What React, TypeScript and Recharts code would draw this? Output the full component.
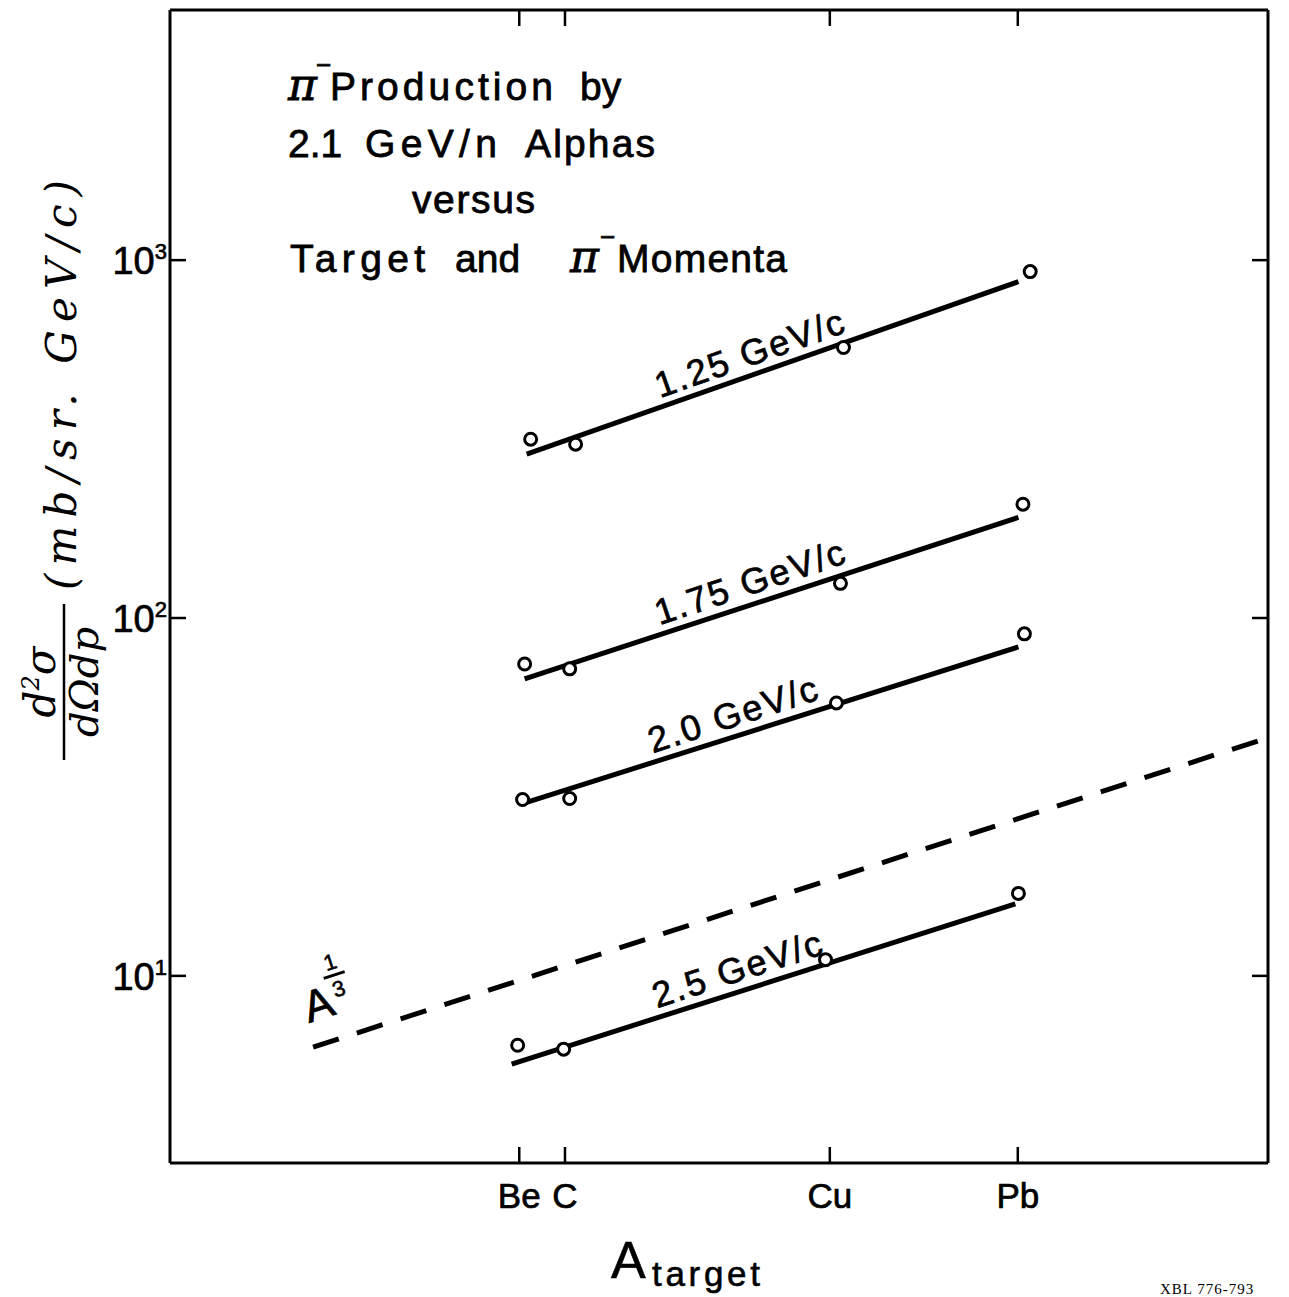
import React from "react";
import {
  ComposedChart,
  Line,
  Scatter,
  XAxis,
  YAxis,
  ReferenceDot,
} from "recharts";

// targets on the x axis (mass number A)
const targetNames = ["Be", "C", "Cu", "Pb"];
const targetMass = [9, 12, 63.5, 207.2];

// y axis decades
const decadeTicks = [10, 100, 1000];
const decadeExponents = ["1", "2", "3"];

const meas125A = [9.67, 12.83, 69.2, 224];
const meas125 = [316, 306, 570, 929];
const meas175A = [9.31, 12.36, 67.9, 214];
const meas175 = [74.4, 72.1, 125, 208];
const meas20A = [9.19, 12.36, 66.2, 216];
const meas20 = [31.1, 31.3, 57.9, 90.3];
const meas25A = [8.91, 11.9, 61.8, 208];
const meas25 = [6.4, 6.24, 11.1, 17.0];

// fitted straight lines (end points)
const fit125A = [9.43, 208];
const fit125 = [287, 871];
const fit175A = [9.31, 208];
const fit175 = [67.6, 191];
const fit20A = [9.19, 208];
const fit20 = [30.3, 83.0];
const fit25A = [8.58, 204];
const fit25 = [5.67, 15.9];

// A^(1/3) reference line
const cubeRootA = [2.46, 1000];
const cubeRoot = [6.32, 46.3];

// momentum labels along the lines
const momentumLabels = ["1.25 GeV/c", "1.75 GeV/c", "2.0 GeV/c", "2.5 GeV/c"];
const labelA = [39.5, 39.5, 35.5, 36.5];
const labelY = [510, 117, 50.0, 9.7];
const labelTilt = [-19.5, -18.5, -18, -18];

// where the A^(1/3) tag sits
const tagA = 2.62;
const tagY = 7.6;

const zip = (a: number[], v: number[]) => a.map((x, i) => ({ a: x, v: v[i] }));

const SANS = "'Liberation Sans', Arial, sans-serif";
const HAND = "'DejaVu Serif', serif";

const BottomTick = (props: any) => {
  const { x, y, payload } = props;
  const i = targetMass.indexOf(payload.value);
  return (
    <g>
      <line x1={x} y1={y} x2={x} y2={y - 16} stroke="#000" strokeWidth={2.5} />
      <text
        x={x}
        y={y + 45}
        textAnchor="middle"
        fontFamily={SANS}
        fontSize={35}
        stroke="#000"
        strokeWidth={0.7}
        fill="#000"
      >
        {targetNames[i]}
      </text>
    </g>
  );
};

const TopTick = (props: any) => {
  const { x, y } = props;
  return <line x1={x} y1={y} x2={x} y2={y + 16} stroke="#000" strokeWidth={2.5} />;
};

const LeftTick = (props: any) => {
  const { x, y, payload } = props;
  const i = decadeTicks.indexOf(payload.value);
  return (
    <g>
      <line x1={x} y1={y} x2={x + 16} y2={y} stroke="#000" strokeWidth={2.5} />
      <text
        x={x - 3}
        y={y + 14}
        textAnchor="end"
        fontFamily={SANS}
        fontSize={38}
        stroke="#000"
        strokeWidth={0.7}
        fill="#000"
      >
        10
        <tspan dy={-15} fontSize={22}>
          {decadeExponents[i]}
        </tspan>
      </text>
    </g>
  );
};

const RightTick = (props: any) => {
  const { x, y } = props;
  return <line x1={x} y1={y} x2={x - 16} y2={y} stroke="#000" strokeWidth={2.5} />;
};

const OpenCircle = (props: any) => {
  const { cx, cy } = props;
  return <circle cx={cx} cy={cy} r={6} fill="#fff" stroke="#000" strokeWidth={3} />;
};

const tiltedLabel = (text: string, angle: number) => (p: any) => (
  <text
    x={p.cx}
    y={p.cy}
    transform={`rotate(${angle} ${p.cx} ${p.cy})`}
    textAnchor="middle"
    fontFamily={SANS}
    fontSize={36}
    letterSpacing={2}
    stroke="#000"
    strokeWidth={0.7}
    fill="#000"
  >
    {text}
  </text>
);

const cubeRootTag = (p: any) => (
  <g transform={`rotate(-18 ${p.cx} ${p.cy})`} fontFamily={SANS} fill="#000">
    <text x={p.cx} y={p.cy} textAnchor="middle" fontSize={44} stroke="#000" strokeWidth={0.8}>
      A
    </text>
    <text x={p.cx + 24} y={p.cy - 44} textAnchor="middle" fontSize={22} stroke="#000" strokeWidth={0.6}>
      1
    </text>
    <line x1={p.cx + 13} y1={p.cy - 38} x2={p.cx + 35} y2={p.cy - 38} stroke="#000" strokeWidth={3} />
    <text x={p.cx + 24} y={p.cy - 16} textAnchor="middle" fontSize={22} stroke="#000" strokeWidth={0.6}>
      3
    </text>
  </g>
);

const fitStyle = { stroke: "#000", strokeWidth: 5 };

const App = () => {
  const fits = [
    zip(fit125A, fit125),
    zip(fit175A, fit175),
    zip(fit20A, fit20),
    zip(fit25A, fit25),
  ];
  const points = [
    zip(meas125A, meas125),
    zip(meas175A, meas175),
    zip(meas20A, meas20),
    zip(meas25A, meas25),
  ];

  return (
    <div style={{ position: "absolute", left: 0, top: 0, width: 1289, height: 1297, background: "#fff" }}>
      <ComposedChart width={1289} height={1297} margin={{ top: 0, right: 0, bottom: 0, left: 0 }}>
        <XAxis
          dataKey="a"
          type="number"
          scale="log"
          domain={[1, 1000]}
          allowDataOverflow
          ticks={targetMass}
          interval={0}
          height={134}
          tickSize={0}
          tickMargin={0}
          tickLine={false}
          axisLine={{ stroke: "#000", strokeWidth: 3 }}
          tick={<BottomTick />}
        />
        <XAxis
          xAxisId="top"
          orientation="top"
          dataKey="a"
          type="number"
          scale="log"
          domain={[1, 1000]}
          allowDataOverflow
          ticks={targetMass}
          interval={0}
          height={10}
          tickSize={0}
          tickMargin={0}
          tickLine={false}
          axisLine={{ stroke: "#000", strokeWidth: 3 }}
          tick={<TopTick />}
        />
        <YAxis
          dataKey="v"
          type="number"
          scale="log"
          domain={[3, 5000]}
          allowDataOverflow
          ticks={decadeTicks}
          interval={0}
          width={170}
          tickSize={0}
          tickMargin={0}
          tickLine={false}
          axisLine={{ stroke: "#000", strokeWidth: 3 }}
          tick={<LeftTick />}
        />
        <YAxis
          yAxisId="right"
          orientation="right"
          dataKey="v"
          type="number"
          scale="log"
          domain={[3, 5000]}
          allowDataOverflow
          ticks={decadeTicks}
          interval={0}
          width={21}
          tickSize={0}
          tickMargin={0}
          tickLine={false}
          axisLine={{ stroke: "#000", strokeWidth: 3 }}
          tick={<RightTick />}
        />

        <Line
          data={zip(cubeRootA, cubeRoot)}
          dataKey="v"
          type="linear"
          stroke="#000"
          strokeWidth={5}
          strokeDasharray="27 19"
          dot={false}
          activeDot={false}
          isAnimationActive={false}
        />
        {fits.map((d, i) => (
          <Line
            key={`fit${i}`}
            data={d}
            dataKey="v"
            type="linear"
            {...fitStyle}
            dot={false}
            activeDot={false}
            isAnimationActive={false}
          />
        ))}
        {points.map((d, i) => (
          <Scatter key={`pts${i}`} data={d} dataKey="v" shape={<OpenCircle />} isAnimationActive={false} />
        ))}

        {momentumLabels.map((t, i) => (
          <ReferenceDot
            key={t}
            x={labelA[i]}
            y={labelY[i]}
            r={0}
            shape={tiltedLabel(t, labelTilt[i])}
          />
        ))}
        <ReferenceDot x={tagA} y={tagY} r={0} shape={cubeRootTag} />
      </ComposedChart>

      <svg
        width={1289}
        height={1297}
        style={{ position: "absolute", left: 0, top: 0, pointerEvents: "none" }}
      >
        <g fontFamily={SANS} fontSize={39} fill="#000" stroke="#000" strokeWidth={0.8}>
          <text x={288} y={100} fontFamily={HAND} fontStyle="italic" fontSize={44}>π</text>
          <text x={316} y={74} fontSize={26}>−</text>
          <text x={330} y={100} textLength={223} lengthAdjust="spacing">Production</text>
          <text x={580} y={100}>by</text>

          <text x={288} y={157}>2.1</text>
          <text x={365} y={157} textLength={132} lengthAdjust="spacing">GeV/n</text>
          <text x={525} y={157} textLength={130} lengthAdjust="spacing">Alphas</text>

          <text x={412} y={213} textLength={123} lengthAdjust="spacing">versus</text>

          <text x={290} y={272} textLength={135} lengthAdjust="spacing">Target</text>
          <text x={455} y={272}>and</text>
          <text x={570} y={272} fontFamily={HAND} fontStyle="italic" fontSize={44}>π</text>
          <text x={600} y={246} fontSize={26}>−</text>
          <text x={617} y={272} textLength={170} lengthAdjust="spacing">Momenta</text>
        </g>

        {/* y axis title, hand lettered */}
        <g transform="translate(64,682) rotate(-90)" fontFamily={HAND} fontStyle="italic" fill="#000">
          <text x={0} y={-9} textAnchor="middle" fontSize={42}>
            d<tspan dy={-16} fontSize={24}>2</tspan>
            <tspan dy={16}>σ</tspan>
          </text>
          <line x1={-78} y1={0} x2={78} y2={0} stroke="#000" strokeWidth={2.5} />
          <text x={0} y={34} textAnchor="middle" fontSize={40}>
            dΩdp
          </text>
        </g>
        <text
          transform="translate(62,385) rotate(-90)"
          x={0}
          y={14}
          textAnchor="middle"
          fontFamily={HAND}
          fontStyle="italic"
          fontSize={42}
          textLength={410}
          lengthAdjust="spacing"
          fill="#000"
        >
          (mb/sr. GeV/c)
        </text>

        {/* x axis title */}
        <g fontFamily={SANS} fill="#000" stroke="#000" strokeWidth={0.6}>
          <text x={611} y={1278} fontSize={52}>A</text>
          <text x={652} y={1286} fontSize={35} textLength={108} lengthAdjust="spacing">
            target
          </text>
        </g>

        <text x={1160} y={1294} fontFamily="'Liberation Serif', serif" fontSize={15} fill="#000" letterSpacing={1}>
          XBL 776-793
        </text>
      </svg>
    </div>
  );
};

export default App;
